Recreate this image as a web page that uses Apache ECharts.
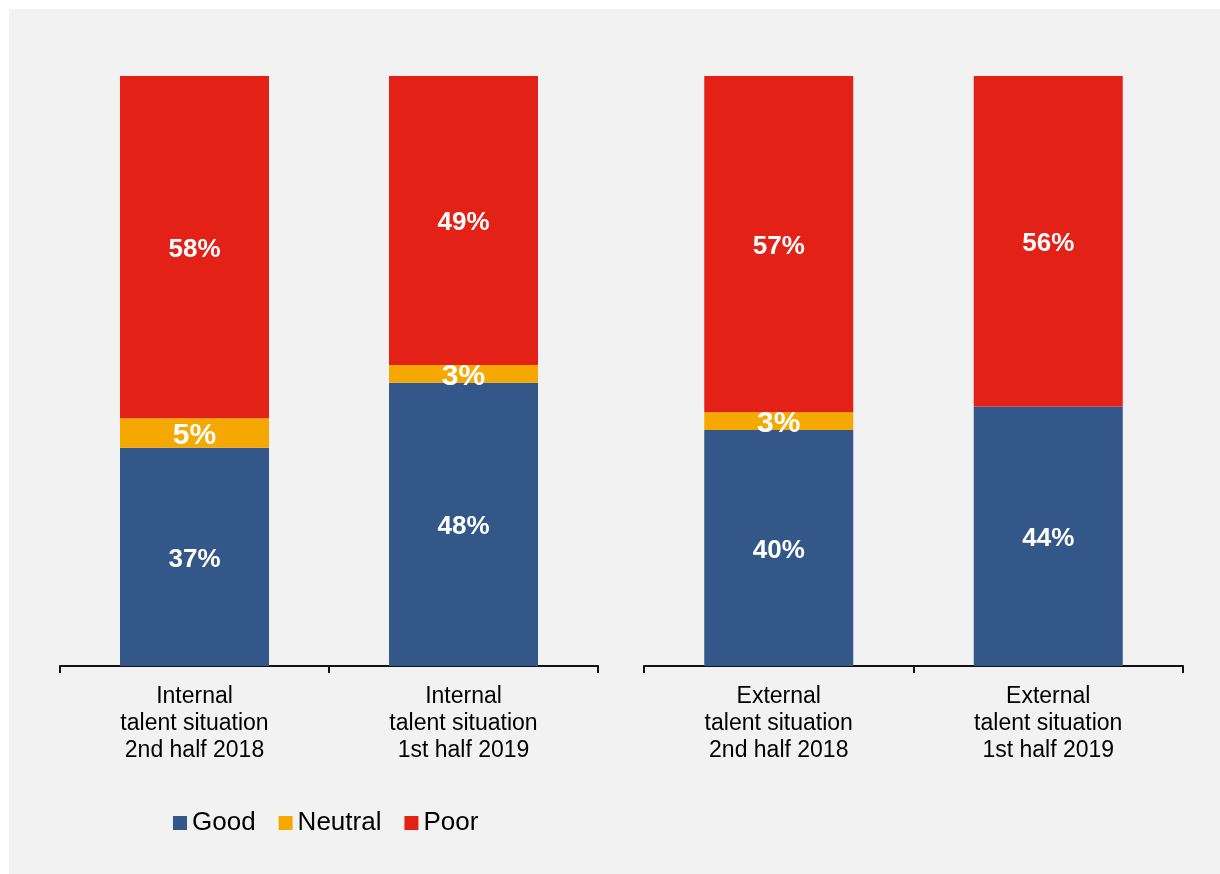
<!DOCTYPE html>
<html>
<head>
<meta charset="utf-8">
<style>
  html, body { margin: 0; padding: 0; background: #ffffff; }
  #chart { width: 1220px; height: 874px; }
</style>
<script src="https://cdn.jsdelivr.net/npm/echarts@6/dist/echarts.min.js"></script>
</head>
<body>
<div id="chart"></div>
<script>
// Talent situation survey: share of Good / Neutral / Poor answers
const internalCategories = ['Internal\ntalent situation\n2nd half 2018', 'Internal\ntalent situation\n1st half 2019'];
const externalCategories = ['External\ntalent situation\n2nd half 2018', 'External\ntalent situation\n1st half 2019'];

const internalGood = [37, 48];
const internalNeutral = [5, 3];
const internalPoor = [58, 49];

const externalGood = [40, 44];
const externalNeutral = [3, 0];
const externalPoor = [57, 56];

const seriesNames = ['Good', 'Neutral', 'Poor'];
const colors = { Good: '#335789', Neutral: '#f5a800', Poor: '#e32116' };

const FONT = '"Liberation Sans", Arial, sans-serif';

function pctLabel(size) {
  return {
    show: true,
    position: 'inside',
    offset: [0, 2.5],
    color: '#ffffff',
    fontFamily: FONT,
    fontWeight: 'bold',
    fontSize: size,
    formatter: p => (p.value > 0 ? p.value + '%' : '')
  };
}

function stackSeries(name, data, idx, size) {
  return {
    name: name,
    type: 'bar',
    stack: 'total' + idx,
    xAxisIndex: idx,
    yAxisIndex: idx,
    barWidth: 149,
    data: data,
    itemStyle: { color: colors[name] },
    label: pctLabel(size),
    emphasis: { disabled: true }
  };
}

function catAxis(cats, idx) {
  return {
    type: 'category',
    gridIndex: idx,
    data: cats,
    axisLine: { show: true, lineStyle: { color: '#111111', width: 2 } },
    axisTick: { show: true, length: 7, lineStyle: { color: '#111111', width: 2 } },
    axisLabel: {
      interval: 0,
      margin: 17,
      color: '#000000',
      fontFamily: FONT,
      fontSize: 23,
      lineHeight: 27
    }
  };
}

function valAxis(idx) {
  return {
    type: 'value',
    gridIndex: idx,
    min: 0,
    max: 100,
    show: false
  };
}

const chart = echarts.init(document.getElementById('chart'));
chart.setOption({
  animation: false,
  backgroundColor: '#ffffff',
  graphic: [{
    type: 'rect',
    z: -10,
    silent: true,
    shape: { x: 9, y: 9, width: 1211, height: 865 },
    style: { fill: '#f2f2f2' }
  }],
  legend: {
    data: seriesNames,
    left: 168,
    top: 805,
    itemWidth: 14,
    itemHeight: 14,
    itemGap: 23,
    icon: 'rect',
    textStyle: { fontFamily: FONT, fontSize: 26, color: '#000000' }
  },
  grid: [
    { left: 60, top: 76, width: 538, height: 590 },
    { left: 644, top: 76, width: 539, height: 590 }
  ],
  xAxis: [catAxis(internalCategories, 0), catAxis(externalCategories, 1)],
  yAxis: [valAxis(0), valAxis(1)],
  series: [
    stackSeries('Good', internalGood, 0, 26),
    stackSeries('Neutral', internalNeutral, 0, 30),
    stackSeries('Poor', internalPoor, 0, 26),
    stackSeries('Good', externalGood, 1, 26),
    stackSeries('Neutral', externalNeutral, 1, 30),
    stackSeries('Poor', externalPoor, 1, 26)
  ]
});
</script>
</body>
</html>
